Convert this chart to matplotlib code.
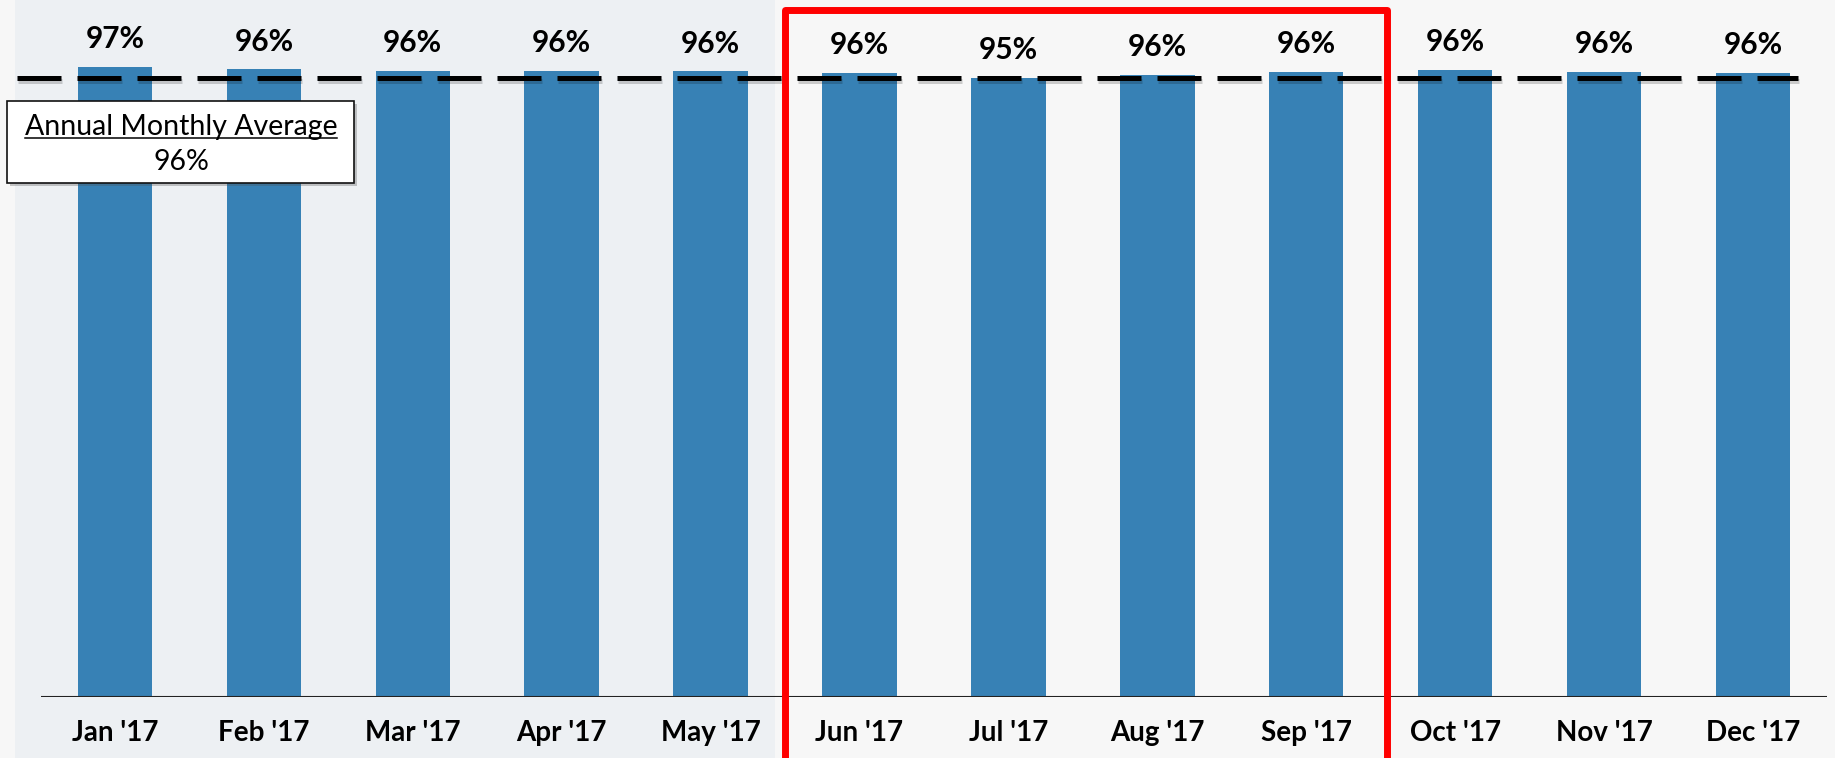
"""Monthly percentage bar chart, Jan-Dec 2017, with annual average line"""
import matplotlib
matplotlib.use("Agg")
import matplotlib.pyplot as plt
import matplotlib.patheffects as pe
from matplotlib.patches import Rectangle
from matplotlib.lines import Line2D
from matplotlib import transforms

# data
months = ["Jan '17", "Feb '17", "Mar '17", "Apr '17", "May '17", "Jun '17",
          "Jul '17", "Aug '17", "Sep '17", "Oct '17", "Nov '17", "Dec '17"]
pct = [96.8, 96.4, 96.2, 96.2, 96.1, 95.9, 95.1, 95.6, 96.0, 96.3, 96.0, 95.9]
avg_line = 95.1
avg_title = "Annual Monthly Average"
avg_label = "96%"
highlight_start, highlight_end = 4.5, 8.54   # Jun-Sep box

W, H = 1835, 758
FONT = "Lato"
BAR_COLOR = "#3781B5"

fig = plt.figure(figsize=(W / 100, H / 100), dpi=100)
fig.patch.set_facecolor("#F7F7F7")
# slide background band behind the first months
fig.add_artist(Rectangle((15 / W, 0), (775 - 15) / W, 1, transform=fig.transFigure,
                         facecolor="#EDF0F3", edgecolor="none", zorder=0))

step = 148.9
ax = fig.add_axes([0, 61 / H, 1, 651 / H])
ax.set_xlim(-115 / step, (W - 115) / step)
ax.set_ylim(0, 100)
ax.axis("off")

x = list(range(len(months)))
ax.bar(x, pct, width=0.5, color=BAR_COLOR, zorder=2)

# baseline
ax.plot([-0.5, 11.5], [0, 0], color="#222222", lw=1.5, solid_capstyle="butt", zorder=3)

# annual average dashed line
ax.plot([-0.66, 11.3], [avg_line, avg_line], color="black", lw=3.6, dashes=(8.8, 3.2),
        zorder=4, path_effects=[pe.SimpleLineShadow(offset=(1, -2), alpha=0.18), pe.Normal()])

# value labels and month labels
for xi, v, m in zip(x, pct, months):
    ax.annotate(f"{v:.0f}%", (xi, v), xytext=(0, 13.5), textcoords="offset points",
                ha="center", va="baseline", fontsize=21.5, fontweight="bold", family=FONT)
    ax.annotate(m, (xi, 0), xytext=(0, -31.7), textcoords="offset points",
                ha="center", va="baseline", fontsize=20, fontweight="bold", family=FONT,
                annotation_clip=False)

# annual average box
fig.add_artist(Rectangle((7 / W, 1 - 183 / H), 347 / W, 82 / H, transform=fig.transFigure,
                         facecolor="white", edgecolor="#111111", lw=1.2, zorder=5,
                         path_effects=[pe.withSimplePatchShadow(offset=(2, -2), alpha=0.3)]))
t1 = fig.text(181 / W, 1 - 135 / H, avg_title, ha="center", va="baseline",
              fontsize=20.5, family=FONT, zorder=6)
fig.text(181 / W, 1 - 170 / H, avg_label, ha="center", va="baseline",
         fontsize=20.5, family=FONT, zorder=6)

# red highlight box
trans = transforms.blended_transform_factory(ax.transData, fig.transFigure)
top = 1 - 10 / H
ax.add_patch(Rectangle((highlight_start, -0.05), highlight_end - highlight_start, top + 0.05,
                       transform=trans, fill=False, edgecolor="#FF0000", lw=5,
                       joinstyle="round", clip_on=False, zorder=7))

# underline the box title
fig.canvas.draw()
bb = t1.get_window_extent()
fig.add_artist(Line2D([bb.x0 / W, bb.x1 / W], [1 - 138 / H] * 2, transform=fig.transFigure,
                      color="black", lw=1.1, zorder=6))

fig.savefig("out.png", dpi=100, facecolor=fig.get_facecolor())
